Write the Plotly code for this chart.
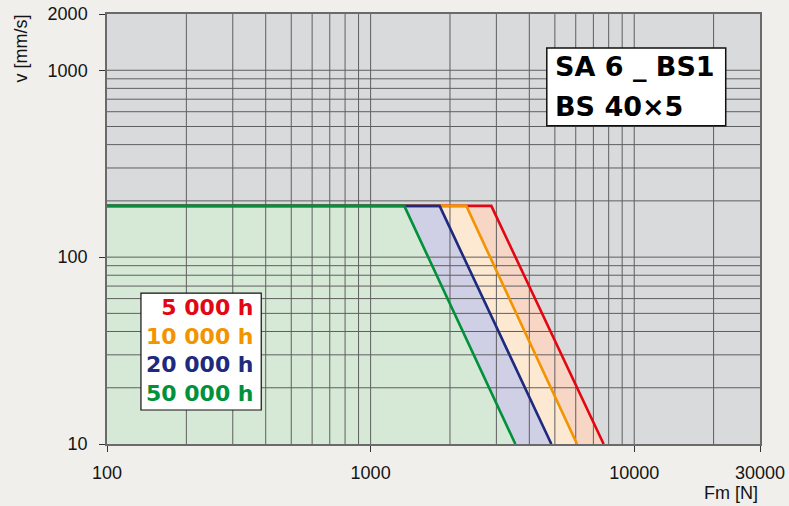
import math
import plotly.graph_objects as go

# ---- data ----
life_labels = ["5 000 h", "10 000 h", "20 000 h", "50 000 h"]
line_colors = ["#e30613", "#f29400", "#1d2a7e", "#00913a"]
fill_colors = ["#f8d6c6", "#fde9d1", "#cfcfe5", "#d6e9d6"]
v_max = 188            # mm/s, speed limit plateau
v_min = 10             # mm/s, bottom of chart
f_start = 100          # N
f_corner = [2870, 2307, 1827, 1342]   # N, end of plateau
f_bottom = [7656, 6067, 4849, 3540]   # N, force at v = 10 mm/s

x_tickvals = [100, 1000, 10000, 30000]
x_ticktext = ["100", "1000", "10000", "30000"]
y_tickvals = [10, 100, 1000, 2000]
y_ticktext = ["10", "100", "1000", "2000"]
x_grid = [200, 300, 400, 500, 600, 700, 800, 900, 1000,
          2000, 3000, 4000, 5000, 6000, 7000, 8000, 9000, 10000, 20000]
y_grid = [20, 30, 40, 50, 60, 70, 80, 90, 100,
          200, 300, 400, 500, 600, 700, 800, 900, 1000]
x_range = [100, 30000]
y_range = [10, 2000]

fig = go.Figure()

# ---- fills (green region, then bands between neighbouring curves) ----
fig.add_trace(go.Scatter(
    x=[f_start, f_corner[3], f_bottom[3], f_start],
    y=[v_max, v_max, v_min, v_min],
    fill="toself", fillcolor=fill_colors[3], mode="none", hoverinfo="skip"))
for i in [2, 1, 0]:
    fig.add_trace(go.Scatter(
        x=[f_corner[i + 1], f_corner[i], f_bottom[i], f_bottom[i + 1]],
        y=[v_max, v_max, v_min, v_min],
        fill="toself", fillcolor=fill_colors[i], mode="none", hoverinfo="skip"))

# ---- grid lines drawn above the fills ----
gx, gy = [], []
for xv in x_grid:
    gx += [xv, xv, None]
    gy += [y_range[0], y_range[1], None]
for yv in y_grid:
    gx += [x_range[0], x_range[1], None]
    gy += [yv, yv, None]
fig.add_trace(go.Scatter(x=gx, y=gy, mode="lines",
                         line=dict(color="#5f5f5f", width=1), hoverinfo="skip"))

# ---- curves (red first so green lies on top of the plateau) ----
for i in range(4):
    fig.add_trace(go.Scatter(
        x=[f_start, f_corner[i], f_bottom[i]],
        y=[v_max, v_max, v_min],
        mode="lines", line=dict(color=line_colors[i], width=2.6),
        hoverinfo="skip"))

tick_font = dict(family="Liberation Sans, Arial, sans-serif", size=18, color="#141414")

fig.update_xaxes(type="log", range=[math.log10(x_range[0]), math.log10(x_range[1])],
                 tickvals=x_tickvals, ticktext=x_ticktext, ticks="outside", ticklen=6,
                 tickcolor="#333", showgrid=False, zeroline=False, automargin=False,
                 showline=True, mirror=True, linecolor="#6a6a6a", linewidth=1.5,
                 tickfont=tick_font, ticklabelstandoff=6)
fig.update_yaxes(type="log", range=[math.log10(y_range[0]), math.log10(y_range[1])],
                 tickvals=y_tickvals, ticktext=y_ticktext, ticks="outside", ticklen=6,
                 tickcolor="#333", showgrid=False, zeroline=False, automargin=False,
                 showline=True, mirror=True, linecolor="#6a6a6a", linewidth=1.5,
                 tickfont=tick_font, ticklabelstandoff=8)

bold = "DejaVu Sans, Arial, sans-serif"
legend_text = "<br>".join(
    f"<span style='color:{c}'><b>{t}</b></span>"
    for t, c in zip(life_labels, line_colors))

shapes = [
    dict(type="rect", xref="paper", yref="paper", x0=0.052, x1=0.2362, y0=0.0791, y1=0.3507,
         fillcolor="white", line=dict(color="#111", width=1.2), layer="above"),
    dict(type="rect", xref="paper", yref="paper", x0=0.6735, x1=0.9475, y0=0.740, y1=0.9209,
         fillcolor="white", line=dict(color="#111", width=1.5), layer="above"),
]

annotations = [
    dict(xref="paper", yref="paper", x=0.2235, y=0.2164, xanchor="right", yanchor="middle",
         xshift=3, text=legend_text, align="right", showarrow=False,
         font=dict(family=bold, size=22)),
    dict(xref="paper", yref="paper", x=0.6836, y=0.8774, xanchor="left", yanchor="middle",
         text="<b>SA 6 _ BS1</b>", showarrow=False,
         font=dict(family=bold, size=27, color="#000")),
    dict(xref="paper", yref="paper", x=0.6836, y=0.7857, xanchor="left", yanchor="middle",
         text="<b>BS 40×5</b>", showarrow=False,
         font=dict(family=bold, size=27, color="#000")),
    dict(xref="paper", yref="paper", x=1, y=0, xanchor="right", yanchor="middle",
         yshift=-49, text="Fm [N]", showarrow=False, font=tick_font),
    dict(xref="paper", yref="paper", x=0, y=1, xanchor="center", yanchor="middle",
         xshift=-86.5, yshift=-35, text="v [mm/s]", textangle=-90, showarrow=False,
         font=tick_font),
]

fig.update_layout(
    width=789, height=506,
    margin=dict(l=107, r=29, t=14, b=62, autoexpand=False),
    paper_bgcolor="#f0efec", plot_bgcolor="#d9dadc",
    showlegend=False, shapes=shapes, annotations=annotations,
)

fig.write_html("out.html", config={"displayModeBar": False},
               post_script="document.body.style.margin='0';")
